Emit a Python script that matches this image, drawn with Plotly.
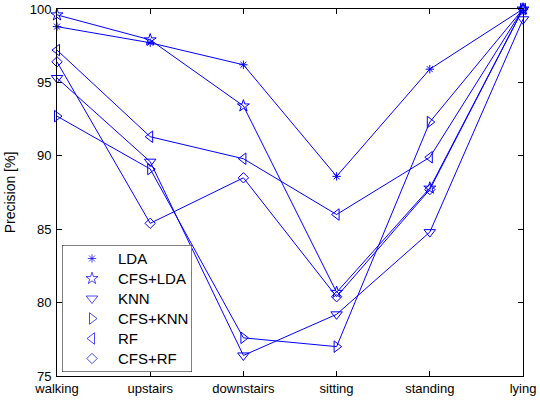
import plotly.graph_objects as go

activities = ["walking", "upstairs", "downstairs", "sitting", "standing", "lying"]

lda = [98.8, 97.7, 96.2, 88.6, 95.9, 100.0]
cfs_lda = [99.6, 97.9, 93.4, 80.7, 87.8, 100.0]
knn = [95.3, 89.6, 76.4, 79.2, 84.8, 99.3]
cfs_knn = [92.7, 89.1, 77.6, 77.0, 92.3, 100.0]
rf = [97.2, 91.3, 89.8, 86.0, 89.9, 100.0]
cfs_rf = [96.4, 85.4, 88.5, 80.4, 87.7, 100.0]

series = [
    ("LDA", lda, "asterisk-open", 7),
    ("CFS+LDA", cfs_lda, "star-open", 9),
    ("KNN", knn, "triangle-down-open", 10),
    ("CFS+KNN", cfs_knn, "triangle-right-open", 10),
    ("RF", rf, "triangle-left-open", 10),
    ("CFS+RF", cfs_rf, "diamond-open", 8),
]

BLUE = "#0000ff"
FONT = "Liberation Sans, Arial, sans-serif"
W, H = 540, 401
L, R, T, B = 57, 17, 9, 25
PW, PH = W - L - R, H - T - B

fig = go.Figure()
for name, vals, sym, size in series:
    fig.add_trace(go.Scatter(
        x=list(range(len(activities))), y=vals, mode="lines+markers",
        line=dict(color=BLUE, width=1),
        marker=dict(symbol=sym, size=size, color=BLUE, line=dict(color=BLUE, width=1)),
        cliponaxis=False, showlegend=False, name=name,
    ))

# Inset legend drawn on its own pixel-scaled axes (markers only, no line samples)
box_x0, box_x1, box_y0, box_y1 = 62, 192, 245, 372
sym_x, text_x, row0, row_step = 92, 116, 258.5, 20
fig.add_trace(go.Scatter(
    x=[sym_x] * len(series), y=[row0 + i * row_step for i in range(len(series))],
    mode="markers", xaxis="x2", yaxis="y2", showlegend=False, hoverinfo="skip",
    marker=dict(symbol=[s[2] for s in series], size=[s[3] for s in series],
                color=BLUE, line=dict(color=BLUE, width=1)),
    cliponaxis=False,
))
for i, (name, *_rest) in enumerate(series):
    fig.add_annotation(
        x=text_x, y=row0 + i * row_step, xref="x2", yref="y2", text=name,
        showarrow=False, xanchor="left", yanchor="middle",
        font=dict(family=FONT, size=15, color="black"),
    )
fig.add_shape(type="rect", xref="x2", yref="y2", x0=box_x0, x1=box_x1, y0=box_y0, y1=box_y1,
              line=dict(color="black", width=1), fillcolor="white", layer="below")

axis_common = dict(
    showgrid=False, zeroline=False, showline=True, linecolor="black", linewidth=1,
    mirror="ticks", ticks="inside", ticklen=5, tickcolor="black", automargin=False,
    tickfont=dict(family=FONT, size=13, color="black"),
)

fig.update_layout(
    width=W, height=H,
    margin=dict(l=L, r=R, t=T, b=B),
    paper_bgcolor="white", plot_bgcolor="white",
    font=dict(family=FONT, size=13, color="black"),
    showlegend=False,
    xaxis=dict(
        range=[0, 5], tickmode="array", tickvals=list(range(6)), ticktext=activities,
        **axis_common,
    ),
    yaxis=dict(
        range=[75, 100], tickvals=[75, 80, 85, 90, 95, 100], ticklabelstandoff=2,
        title=dict(text="Precision [%]", font=dict(family=FONT, size=14), standoff=10),
        **axis_common,
    ),
    xaxis2=dict(
        domain=[(box_x0 - L) / PW, (box_x1 - L) / PW], range=[box_x0, box_x1],
        visible=False, fixedrange=True, anchor="y2",
    ),
    yaxis2=dict(
        domain=[(H - B - box_y1) / PH, (H - B - box_y0) / PH], range=[box_y1, box_y0],
        visible=False, fixedrange=True, anchor="x2",
    ),
)

fig.write_html("out.html")
